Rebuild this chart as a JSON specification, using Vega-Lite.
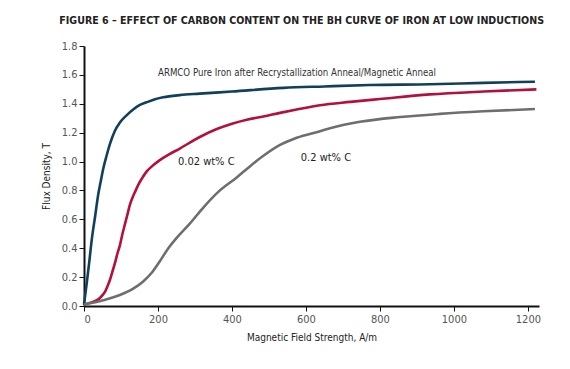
{
  "$schema": "https://vega.github.io/schema/vega-lite/v6.json",
  "width": 455,
  "height": 260,
  "autosize": {"type": "none"},
  "padding": {"left": 84, "top": 46, "right": 31, "bottom": 63},
  "background": "white",
  "title": {
    "text": "FIGURE 6 – EFFECT OF CARBON CONTENT ON THE BH CURVE OF IRON AT LOW INDUCTIONS",
    "anchor": "start",
    "font": "DejaVu Sans Condensed",
    "fontSize": 10.6,
    "fontWeight": "bold",
    "color": "#222222",
    "dx": 18,
    "offset": 13
  },
  "config": {
    "view": {"stroke": null},
    "axis": {
      "grid": false,
      "domainColor": "#111111",
      "domainWidth": 2,
      "tickColor": "#111111",
      "tickWidth": 1,
      "tickSize": 5,
      "labelColor": "#555555",
      "labelFont": "DejaVu Sans Condensed",
      "labelFontSize": 11,
      "labelOverlap": false,
      "titleFont": "DejaVu Sans Condensed",
      "titleFontSize": 10,
      "titleFontWeight": "normal",
      "titleColor": "#222222"
    }
  },
  "datasets": {
    "curves": [
      {"H": 0, "B": 0.01, "series": "ARMCO"},
      {"H": 7, "B": 0.15, "series": "ARMCO"},
      {"H": 14, "B": 0.3, "series": "ARMCO"},
      {"H": 21, "B": 0.46, "series": "ARMCO"},
      {"H": 30, "B": 0.62, "series": "ARMCO"},
      {"H": 39, "B": 0.78, "series": "ARMCO"},
      {"H": 45, "B": 0.86, "series": "ARMCO"},
      {"H": 52, "B": 0.95, "series": "ARMCO"},
      {"H": 61, "B": 1.04, "series": "ARMCO"},
      {"H": 70, "B": 1.12, "series": "ARMCO"},
      {"H": 83, "B": 1.21, "series": "ARMCO"},
      {"H": 97, "B": 1.27, "series": "ARMCO"},
      {"H": 115, "B": 1.32, "series": "ARMCO"},
      {"H": 133, "B": 1.36, "series": "ARMCO"},
      {"H": 150, "B": 1.39, "series": "ARMCO"},
      {"H": 169, "B": 1.41, "series": "ARMCO"},
      {"H": 190, "B": 1.43, "series": "ARMCO"},
      {"H": 214, "B": 1.445, "series": "ARMCO"},
      {"H": 259, "B": 1.46, "series": "ARMCO"},
      {"H": 313, "B": 1.47, "series": "ARMCO"},
      {"H": 400, "B": 1.485, "series": "ARMCO"},
      {"H": 539, "B": 1.51, "series": "ARMCO"},
      {"H": 650, "B": 1.52, "series": "ARMCO"},
      {"H": 773, "B": 1.53, "series": "ARMCO"},
      {"H": 935, "B": 1.535, "series": "ARMCO"},
      {"H": 1080, "B": 1.545, "series": "ARMCO"},
      {"H": 1219, "B": 1.553, "series": "ARMCO"},
      {"H": 0, "B": 0.01, "series": "0.02"},
      {"H": 20, "B": 0.025, "series": "0.02"},
      {"H": 35, "B": 0.04, "series": "0.02"},
      {"H": 43, "B": 0.055, "series": "0.02"},
      {"H": 50, "B": 0.075, "series": "0.02"},
      {"H": 57, "B": 0.1, "series": "0.02"},
      {"H": 64, "B": 0.14, "series": "0.02"},
      {"H": 70, "B": 0.18, "series": "0.02"},
      {"H": 77, "B": 0.24, "series": "0.02"},
      {"H": 84, "B": 0.3, "series": "0.02"},
      {"H": 90, "B": 0.36, "series": "0.02"},
      {"H": 97, "B": 0.42, "series": "0.02"},
      {"H": 104, "B": 0.5, "series": "0.02"},
      {"H": 111, "B": 0.57, "series": "0.02"},
      {"H": 118, "B": 0.64, "series": "0.02"},
      {"H": 124, "B": 0.7, "series": "0.02"},
      {"H": 131, "B": 0.75, "series": "0.02"},
      {"H": 138, "B": 0.79, "series": "0.02"},
      {"H": 147, "B": 0.84, "series": "0.02"},
      {"H": 156, "B": 0.88, "series": "0.02"},
      {"H": 169, "B": 0.93, "series": "0.02"},
      {"H": 185, "B": 0.97, "series": "0.02"},
      {"H": 205, "B": 1.01, "series": "0.02"},
      {"H": 230, "B": 1.05, "series": "0.02"},
      {"H": 259, "B": 1.09, "series": "0.02"},
      {"H": 285, "B": 1.13, "series": "0.02"},
      {"H": 313, "B": 1.17, "series": "0.02"},
      {"H": 359, "B": 1.225, "series": "0.02"},
      {"H": 400, "B": 1.262, "series": "0.02"},
      {"H": 440, "B": 1.29, "series": "0.02"},
      {"H": 485, "B": 1.312, "series": "0.02"},
      {"H": 530, "B": 1.337, "series": "0.02"},
      {"H": 575, "B": 1.36, "series": "0.02"},
      {"H": 638, "B": 1.39, "series": "0.02"},
      {"H": 720, "B": 1.413, "series": "0.02"},
      {"H": 800, "B": 1.433, "series": "0.02"},
      {"H": 935, "B": 1.465, "series": "0.02"},
      {"H": 1080, "B": 1.485, "series": "0.02"},
      {"H": 1223, "B": 1.5, "series": "0.02"},
      {"H": 0, "B": 0.01, "series": "0.2"},
      {"H": 52, "B": 0.04, "series": "0.2"},
      {"H": 97, "B": 0.076, "series": "0.2"},
      {"H": 133, "B": 0.12, "series": "0.2"},
      {"H": 160, "B": 0.17, "series": "0.2"},
      {"H": 183, "B": 0.23, "series": "0.2"},
      {"H": 205, "B": 0.31, "series": "0.2"},
      {"H": 228, "B": 0.4, "series": "0.2"},
      {"H": 250, "B": 0.47, "series": "0.2"},
      {"H": 286, "B": 0.57, "series": "0.2"},
      {"H": 322, "B": 0.68, "series": "0.2"},
      {"H": 363, "B": 0.79, "series": "0.2"},
      {"H": 413, "B": 0.89, "series": "0.2"},
      {"H": 450, "B": 0.97, "series": "0.2"},
      {"H": 485, "B": 1.04, "series": "0.2"},
      {"H": 530, "B": 1.115, "series": "0.2"},
      {"H": 575, "B": 1.165, "series": "0.2"},
      {"H": 638, "B": 1.21, "series": "0.2"},
      {"H": 665, "B": 1.23, "series": "0.2"},
      {"H": 746, "B": 1.275, "series": "0.2"},
      {"H": 854, "B": 1.308, "series": "0.2"},
      {"H": 962, "B": 1.33, "series": "0.2"},
      {"H": 1080, "B": 1.348, "series": "0.2"},
      {"H": 1219, "B": 1.364, "series": "0.2"}
    ],
    "armco": [
      {"H": 200, "B": 1.61, "label": "ARMCO Pure Iron after Recrystallization Anneal/Magnetic Anneal"}
    ],
    "labels": [
      {"H": 254, "B": 0.995, "label": "0.02 wt% C"},
      {"H": 586, "B": 1.025, "label": "0.2 wt% C"}
    ]
  },
  "encoding": {
    "x": {
      "field": "H", "type": "quantitative",
      "scale": {"domain": [0, 1230], "nice": false},
      "axis": {"values": [0, 200, 400, 600, 800, 1000, 1200], "format": "d", "title": "Magnetic Field Strength, A/m", "titlePadding": 8}
    },
    "y": {
      "field": "B", "type": "quantitative",
      "scale": {"domain": [0, 1.8], "nice": false},
      "axis": {"values": [0, 0.2, 0.4, 0.6, 0.8, 1, 1.2, 1.4, 1.6, 1.8], "tickCount": 10, "format": ".1f", "title": "Flux Density, T", "titlePadding": 10}
    }
  },
  "layer": [
    {
      "data": {"name": "curves"},
      "mark": {"type": "line", "strokeWidth": 2.6, "interpolate": "monotone"},
      "encoding": {
        "color": {
          "field": "series", "type": "nominal",
          "scale": {"domain": ["ARMCO", "0.02", "0.2"], "range": ["#123f5a", "#b3103d", "#6e6e6e"]},
          "legend": null
        }
      }
    },
    {
      "data": {"name": "armco"},
      "mark": {"type": "text", "align": "left", "baseline": "middle", "font": "DejaVu Sans Condensed", "fontSize": 9.6, "color": "#333333"},
      "encoding": {
        "text": {"field": "label"}
      }
    },
    {
      "data": {"name": "labels"},
      "mark": {"type": "text", "align": "left", "baseline": "middle", "font": "DejaVu Sans Condensed", "fontSize": 11, "color": "#222222"},
      "encoding": {
        "text": {"field": "label"}
      }
    }
  ]
}
